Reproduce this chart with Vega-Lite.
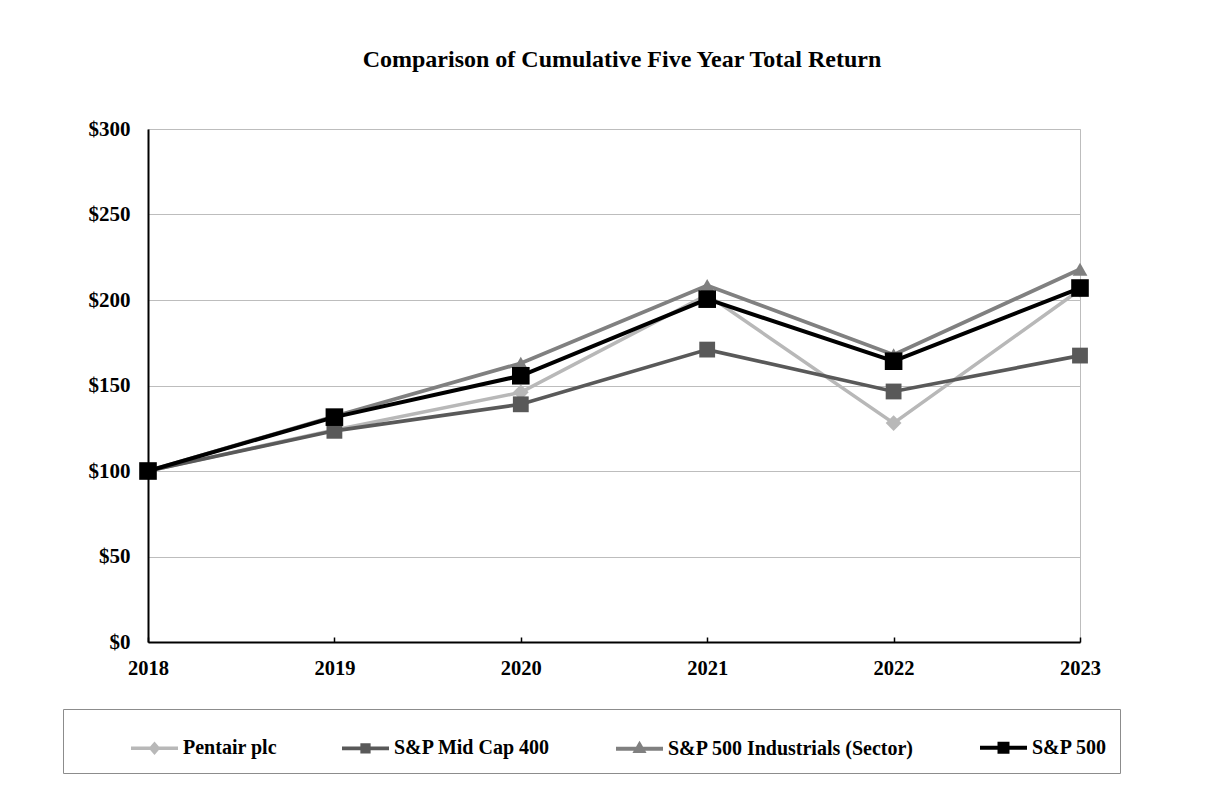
{
  "$schema": "https://vega.github.io/schema/vega-lite/v6.json",
  "autosize": "none",
  "width": 932,
  "height": 513,
  "padding": {"left": 148, "top": 129, "right": 131, "bottom": 162},
  "background": "white",
  "title": {
    "text": "Comparison of Cumulative Five Year Total Return",
    "font": "Liberation Serif",
    "fontSize": 24,
    "fontWeight": "bold",
    "color": "black",
    "anchor": "middle",
    "offset": 46,
    "dx": 8
  },
  "data": {
    "values": [
      {"year": "2018", "series": "Pentair plc", "value": 100},
      {"year": "2019", "series": "Pentair plc", "value": 124},
      {"year": "2020", "series": "Pentair plc", "value": 146},
      {"year": "2021", "series": "Pentair plc", "value": 203},
      {"year": "2022", "series": "Pentair plc", "value": 128},
      {"year": "2023", "series": "Pentair plc", "value": 206},
      {"year": "2018", "series": "S&P 500 Industrials (Sector)", "value": 100},
      {"year": "2019", "series": "S&P 500 Industrials (Sector)", "value": 132},
      {"year": "2020", "series": "S&P 500 Industrials (Sector)", "value": 163},
      {"year": "2021", "series": "S&P 500 Industrials (Sector)", "value": 208.5},
      {"year": "2022", "series": "S&P 500 Industrials (Sector)", "value": 168},
      {"year": "2023", "series": "S&P 500 Industrials (Sector)", "value": 218},
      {"year": "2018", "series": "S&P Mid Cap 400", "value": 100},
      {"year": "2019", "series": "S&P Mid Cap 400", "value": 123.5},
      {"year": "2020", "series": "S&P Mid Cap 400", "value": 139},
      {"year": "2021", "series": "S&P Mid Cap 400", "value": 171},
      {"year": "2022", "series": "S&P Mid Cap 400", "value": 146.5},
      {"year": "2023", "series": "S&P Mid Cap 400", "value": 167.5},
      {"year": "2018", "series": "S&P 500", "value": 100},
      {"year": "2019", "series": "S&P 500", "value": 131.5},
      {"year": "2020", "series": "S&P 500", "value": 155.7},
      {"year": "2021", "series": "S&P 500", "value": 200.5},
      {"year": "2022", "series": "S&P 500", "value": 164.2},
      {"year": "2023", "series": "S&P 500", "value": 207}
    ]
  },
  "encoding": {
    "x": {
      "field": "year",
      "type": "ordinal",
      "scale": {"type": "point", "padding": 0},
      "axis": {
        "title": null,
        "labelAngle": 0,
        "labelFont": "Liberation Serif",
        "labelFontSize": 20.5,
        "labelFontWeight": "bold",
        "labelColor": "black",
        "labelPadding": 21,
        "domainColor": "black",
        "domainWidth": 2,
        "tickColor": "black",
        "tickWidth": 1.5,
        "tickSize": -5,
        "grid": false
      }
    },
    "y": {
      "field": "value",
      "type": "quantitative",
      "scale": {"domain": [0, 300], "nice": false, "zero": true},
      "axis": {
        "title": null,
        "values": [0, 50, 100, 150, 200, 250, 300],
        "format": "$.0f",
        "labelFont": "Liberation Serif",
        "labelFontSize": 21,
        "labelFontWeight": "bold",
        "labelColor": "black",
        "labelPadding": 18,
        "ticks": false,
        "domainColor": "black",
        "domainWidth": 2,
        "grid": true,
        "gridColor": "#bdbdbd",
        "gridWidth": 1
      }
    },
    "color": {
      "field": "series",
      "type": "nominal",
      "scale": {
        "domain": ["Pentair plc", "S&P Mid Cap 400", "S&P 500 Industrials (Sector)", "S&P 500"],
        "range": ["#b8b8b8", "#595959", "#808080", "#000000"]
      },
      "legend": {
        "orient": "none",
        "legendX": -85,
        "legendY": 580,
        "direction": "horizontal",
        "columns": 4,
        "columnPadding": 57,
        "title": " ",
        "titleOrient": "left",
        "titlePadding": 53,
        "padding": 13,
        "strokeColor": "#8c8c8c",
        "fillColor": "white",
        "symbolSize": 2209,
        "symbolStrokeWidth": 4,
        "labelFont": "Liberation Serif",
        "labelFontSize": 20,
        "labelFontWeight": "bold",
        "labelColor": "black",
        "labelOffset": 3,
        "labelLimit": 400,
        "encoding": {
          "symbols": {
            "shape": {"value": {"expr": "datum.value == 'Pentair plc' ? 'M-1,0H1M0,-0.17L0.15,0L0,0.17L-0.15,0Z' : datum.value == 'S&P 500 Industrials (Sector)' ? 'M-1,0H1M0,-0.18L0.16,0.1H-0.16Z' : datum.value == 'S&P 500' ? 'M-1,0H1M-0.17,-0.17H0.17V0.17H-0.17Z' : 'M-1,0H1M-0.14,-0.14H0.14V0.14H-0.14Z'"}},
            "fill": {"value": {"expr": "scale('color', datum.value)"}},
            "stroke": {"value": {"expr": "scale('color', datum.value)"}},
            "strokeWidth": {"value": {"expr": "datum.value == 'S&P 500' ? 5 : 4"}},
            "size": {"value": 2209},
            "opacity": {"value": 1}
          }
        }
      }
    }
  },
  "layer": [
    {
      "mark": {"type": "line", "strokeJoin": "miter"},
      "encoding": {
        "strokeWidth": {
          "field": "series",
          "type": "nominal",
          "scale": {
            "domain": ["Pentair plc", "S&P Mid Cap 400", "S&P 500 Industrials (Sector)", "S&P 500"],
            "range": [3.5, 4, 4, 5]
          },
          "legend": null
        }
      }
    },
    {
      "transform": [{"filter": "datum.series == 'Pentair plc'"}],
      "mark": {"type": "point", "filled": true, "opacity": 1, "shape": "diamond", "size": 250}
    },
    {
      "transform": [{"filter": "datum.series == 'S&P 500 Industrials (Sector)'"}],
      "mark": {"type": "point", "filled": true, "opacity": 1, "shape": "triangle-up", "size": 220}
    },
    {
      "transform": [{"filter": "datum.series == 'S&P Mid Cap 400'"}],
      "mark": {"type": "point", "filled": true, "opacity": 1, "shape": "square", "size": 250}
    },
    {
      "transform": [{"filter": "datum.series == 'S&P 500'"}],
      "mark": {"type": "point", "filled": true, "opacity": 1, "shape": "square", "size": 310}
    }
  ],
  "config": {
    "view": {"stroke": "#bdbdbd", "strokeWidth": 1}
  }
}
